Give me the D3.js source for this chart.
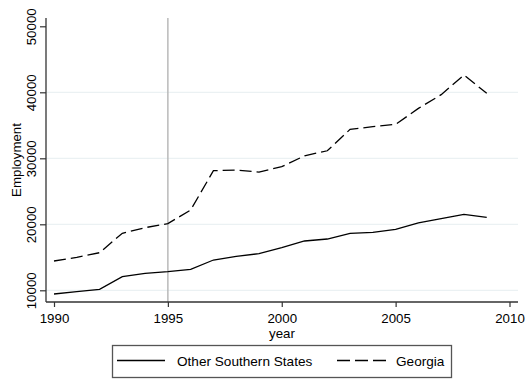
<!DOCTYPE html>
<html><head><meta charset="utf-8">
<script src="https://cdn.jsdelivr.net/npm/d3@7"></script>
<style>body{margin:0;background:#fff;} svg{display:block;} text{font-family:"Liberation Sans",Arial,sans-serif;fill:#000;}</style>
</head><body><svg id="c" width="525" height="379"></svg>
<script>
const years = [1990,1991,1992,1993,1994,1995,1996,1997,1998,1999,2000,2001,2002,2003,2004,2005,2006,2007,2008,2009];
const otherSouthern = [9440,9800,10150,12060,12570,12820,13180,14590,15150,15550,16460,17470,17770,18640,18790,19240,20200,20850,21510,21060];
const georgia = [14440,15000,15700,18640,19490,20100,22170,28120,28230,27920,28730,30380,31140,34380,34790,35140,37560,39640,42620,39840];
const xTicks = [1990,1995,2000,2005,2010];
const yTicks = [10000,20000,30000,40000,50000];
const gridTicks = [10000,20000,30000,40000];
const seriesNames = ["Other Southern States","Georgia"];
const markerYear = 1995;

const svg = d3.select("#c");
const x = d3.scaleLinear().domain([1990,2010]).range([54,509.5]);
const y = d3.scaleLinear().domain([10000,50000]).range([290.3,26.3]);
const pL = 46, pR = 518, pT = 18, pB = 302;
const fs = 13.3;

// gridlines
svg.append("g").selectAll("line").data(gridTicks).join("line")
  .attr("x1",pL).attr("x2",pR).attr("y1",d=>y(d)).attr("y2",d=>y(d))
  .attr("stroke","#e6eef1").attr("stroke-width",1);

// vertical marker
svg.append("line").attr("x1",x(markerYear)).attr("x2",x(markerYear)).attr("y1",pT).attr("y2",pB)
  .attr("stroke","#b5b5b5").attr("stroke-width",1.4);

// axes
const yAxis = d3.axisLeft(y).tickValues(yTicks).tickSize(6).tickPadding(4).tickFormat(d3.format("d"));
const gy = svg.append("g").attr("transform",`translate(${pL},0)`).call(yAxis);
gy.select(".domain").attr("d",`M0,${pT}V${pB}`).attr("stroke","#333").attr("stroke-width",1.3);
gy.selectAll(".tick line").attr("stroke","#333").attr("stroke-width",1.2);
gy.selectAll(".tick text").attr("font-size",fs).attr("font-family","Liberation Sans, Arial, sans-serif")
  .attr("transform","rotate(-90)").attr("x",0).attr("y",-10).attr("dy",0)
  .attr("text-anchor","middle").attr("fill","#000");

const xAxis = d3.axisBottom(x).tickValues(xTicks).tickSize(5).tickPadding(3).tickFormat(d3.format("d"));
const gx = svg.append("g").attr("transform",`translate(0,${pB})`).call(xAxis);
gx.select(".domain").attr("d",`M${pL},0H${pR}`).attr("stroke","#333").attr("stroke-width",1.3);
gx.selectAll(".tick line").attr("stroke","#333").attr("stroke-width",1.2);
gx.selectAll(".tick text").attr("font-size",fs).attr("font-family","Liberation Sans, Arial, sans-serif")
  .attr("y",20.5).attr("dy",0).attr("fill","#000");

// axis titles
svg.append("text").attr("x",(pL+pR)/2).attr("y",338).attr("text-anchor","middle").attr("font-size",fs).text("year");
svg.append("text").attr("transform",`translate(21,${(pT+pB)/2}) rotate(-90)`).attr("text-anchor","middle").attr("font-size",fs).text("Employment");

// lines
const line = d3.line().x((d,i)=>x(years[i])).y(d=>y(d));
svg.append("path").datum(otherSouthern).attr("d",line).attr("fill","none").attr("stroke","#000").attr("stroke-width",1.3);
svg.append("path").datum(georgia).attr("d",line).attr("fill","none").attr("stroke","#000").attr("stroke-width",1.3).attr("stroke-dasharray","12,5");

// legend
const lg = svg.append("g");
lg.append("rect").attr("x",112.5).attr("y",345.5).attr("width",339).attr("height",32).attr("fill","#fff").attr("stroke","#555").attr("stroke-width",1.3);
lg.append("line").attr("x1",117).attr("x2",165).attr("y1",360.5).attr("y2",360.5).attr("stroke","#000").attr("stroke-width",1.3);
lg.append("text").attr("x",177).attr("y",366).attr("font-size",13.6).text(seriesNames[0]);
lg.append("line").attr("x1",337).attr("x2",387).attr("y1",360.5).attr("y2",360.5).attr("stroke","#000").attr("stroke-width",1.3).attr("stroke-dasharray","13,5");
lg.append("text").attr("x",396).attr("y",366).attr("font-size",13.6).text(seriesNames[1]);
</script></body></html>
